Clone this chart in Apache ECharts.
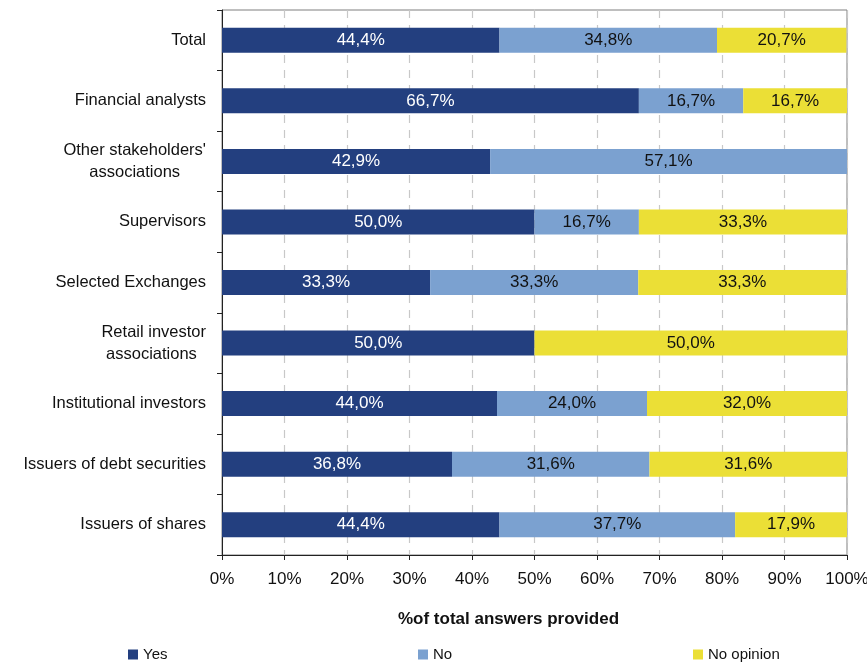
<!DOCTYPE html>
<html>
<head>
<meta charset="utf-8">
<script src="https://cdn.jsdelivr.net/npm/echarts@6/dist/echarts.min.js"></script>
<style>
  html, body { margin: 0; padding: 0; background: #fff; }
  #chart { width: 867px; height: 664px; }
</style>
</head>
<body>
<div id="chart"></div>
<script>
// Respondent groups, top to bottom
const categories = [
  'Total',
  'Financial analysts',
  "Other stakeholders'\nassociations",
  'Supervisors',
  'Selected Exchanges',
  'Retail investor\nassociations ',
  'Institutional investors',
  'Issuers of debt securities',
  'Issuers of shares'
];

// Share of answers (%) per group
const yesValues       = [44.4, 66.7, 42.9, 50.0, 33.3, 50.0, 44.0, 36.8, 44.4];
const noValues        = [34.8, 16.7, 57.1, 16.7, 33.3, 0,    24.0, 31.6, 37.7];
const noOpinionValues = [20.7, 16.7, 0,    33.3, 33.3, 50.0, 32.0, 31.6, 17.9];

const seriesNames = ['Yes', 'No', 'No opinion'];
const xTicks = [0, 10, 20, 30, 40, 50, 60, 70, 80, 90, 100];

const FONT = 'Liberation Sans, Arial, sans-serif';
const colors = ['#233F7F', '#7BA1D0', '#EBDF36'];
const labelColors = ['#ffffff', '#111111', '#111111'];

function fmt(v) {
  return v.toFixed(1).replace('.', ',') + '%';
}

function makeSeries(name, data, idx) {
  return {
    name: name,
    type: 'bar',
    stack: 'total',
    barWidth: 25,
    data: data,
    itemStyle: { color: colors[idx] },
    label: {
      show: true,
      position: 'inside',
      color: labelColors[idx],
      fontFamily: FONT,
      fontSize: 17,
      formatter: p => (p.value > 0 ? fmt(p.value) : '')
    }
  };
}

const chart = echarts.init(document.getElementById('chart'), null, { renderer: 'canvas' });

const legendCommon = {
  orient: 'horizontal',
  top: 647,
  padding: 0,
  itemWidth: 10,
  itemHeight: 10,
  itemGap: 4,
  icon: 'rect',
  textStyle: { fontFamily: FONT, fontSize: 15, color: '#111' }
};

chart.setOption({
  animation: false,
  backgroundColor: '#ffffff',
  color: colors,
  grid: {
    left: 222, right: 20, top: 10, bottom: 109,
    outerBoundsMode: 'none',
    containLabel: false,
    show: true, borderColor: '#7f7f7f', borderWidth: 1
  },
  legend: [
    Object.assign({}, legendCommon, { left: 128, data: ['Yes'] }),
    Object.assign({}, legendCommon, { left: 418, data: ['No'] }),
    Object.assign({}, legendCommon, { left: 693, data: ['No opinion'] })
  ],
  xAxis: {
    type: 'value',
    min: 0, max: 100, interval: 10,
    name: '%of total answers provided',
    nameLocation: 'middle',
    nameGap: 56,
    nameTextStyle: {
      fontFamily: FONT, fontSize: 17, fontWeight: 'bold', color: '#111',
      padding: [0, 52, 0, 0]
    },
    axisLine: { show: true, lineStyle: { color: '#222', width: 1 } },
    axisTick: { show: true, length: 5, lineStyle: { color: '#222' } },
    axisLabel: {
      fontFamily: FONT, fontSize: 17, color: '#111', margin: 16,
      formatter: v => (xTicks.indexOf(v) >= 0 ? v + '%' : '')
    },
    splitLine: { show: true, lineStyle: { color: '#c8c8c8', type: [8, 7], width: 1.2 } }
  },
  yAxis: {
    type: 'category',
    inverse: true,
    data: categories,
    axisLine: { show: true, lineStyle: { color: '#222', width: 1 } },
    axisTick: { show: true, length: 5, lineStyle: { color: '#222' } },
    axisLabel: {
      margin: 16,
      formatter: v => v.split('\n').map(s => '{c|' + s + '}').join('\n'),
      rich: {
        c: {
          align: 'center',
          fontFamily: FONT,
          fontSize: 16.5,
          color: '#111',
          lineHeight: 22
        }
      }
    }
  },
  series: [
    makeSeries(seriesNames[0], yesValues, 0),
    makeSeries(seriesNames[1], noValues, 1),
    makeSeries(seriesNames[2], noOpinionValues, 2)
  ]
});
</script>
</body>
</html>
